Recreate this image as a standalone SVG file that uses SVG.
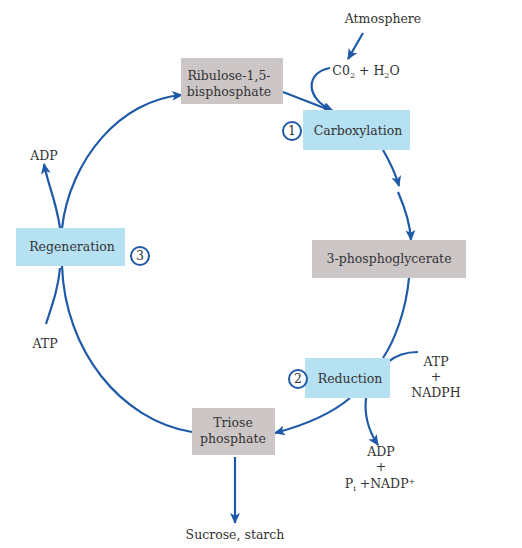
<svg xmlns="http://www.w3.org/2000/svg" width="522" height="548" viewBox="0 0 522 548">
<defs>
<marker id="ah" viewBox="0 0 10 10" refX="9" refY="5" markerWidth="11" markerHeight="11" orient="auto" markerUnits="userSpaceOnUse">
<path d="M0,0.5 L10,5 L0,9.5 L2.5,5 Z" fill="#1f5aa8"/>
</marker>
<style>
.t{font-family:"DejaVu Serif","Liberation Serif",serif;font-size:12.5px;fill:#333;text-anchor:middle}
.gray{fill:#cdc6c6}
.blue{fill:#b5e1f3}
.c{fill:none;stroke:#1f5aa8;stroke-width:2.2}
.num{fill:#fff;stroke:#1f5aa8;stroke-width:2}
</style>
</defs>
<rect width="522" height="548" fill="#fff"/>
<g id="connectors">
<path class="c" d="M62,228 C70,160 120,100 182,95" marker-end="url(#ah)"/>
<path class="c" d="M192,432 C120,420 65,350 62,266"/>
<path class="c" d="M60,228 C56,200 48,185 44,164" marker-end="url(#ah)"/>
<path class="c" d="M46,324 C52,305 58,290 60,268"/>
<path class="c" d="M383,150 C390,162 395,172 399,186" marker-end="url(#ah)"/>
<path class="c" d="M398,192 C405,208 410,222 411,240" marker-end="url(#ah)"/>
<path class="c" d="M409,278 C406,310 395,340 383,358"/>
<path class="c" d="M418,352 C405,352 395,356 388,362"/>
<path class="c" d="M366,398 C364,415 368,430 378,445" marker-end="url(#ah)"/>
<path class="c" d="M350,398 C330,415 305,425 275,433" marker-end="url(#ah)"/>
<path class="c" d="M235,457 L235,523" marker-end="url(#ah)"/>
<path class="c" d="M363,33 L348,59" marker-end="url(#ah)"/>
<path class="c" d="M330,68 C306,72 304,98 333,111" marker-end="url(#ah)"/>
<path class="c" d="M283,92 L332,111" marker-end="url(#ah)"/>
</g>
<g id="ribulose">
<rect class="gray" x="181" y="58" width="102" height="46"/>
<text class="t" x="229" y="80">Ribulose-1,5-</text>
<text class="t" x="229" y="96">bisphosphate</text>
</g>
<g id="carboxylation">
<rect class="blue" x="303" y="110" width="107" height="40"/>
<text class="t" x="358" y="135">Carboxylation</text>
<circle class="num" cx="292" cy="131" r="9"/>
<text class="t" x="292" y="135">1</text>
</g>
<g id="pga">
<rect class="gray" x="312" y="240" width="154" height="38"/>
<text class="t" x="389" y="263">3-phosphoglycerate</text>
</g>
<g id="reduction">
<rect class="blue" x="305" y="358" width="85" height="40"/>
<text class="t" x="350" y="383">Reduction</text>
<circle class="num" cx="298" cy="379" r="9"/>
<text class="t" x="298" y="383">2</text>
</g>
<g id="triose">
<rect class="gray" x="192" y="408" width="83" height="47"/>
<text class="t" x="233" y="427">Triose</text>
<text class="t" x="233" y="443">phosphate</text>
</g>
<g id="regeneration">
<rect class="blue" x="16" y="228" width="109" height="38"/>
<text class="t" x="72" y="251">Regeneration</text>
<circle class="num" cx="140" cy="256" r="9"/>
<text class="t" x="140" y="260">3</text>
</g>
<g id="labels">
<text class="t" x="383" y="23">Atmosphere</text>
<text class="t" x="366" y="75">C0<tspan font-size="8" dy="3">2</tspan><tspan dy="-3"> + H</tspan><tspan font-size="8" dy="3">2</tspan><tspan dy="-3">O</tspan></text>
<text class="t" x="44" y="160">ADP</text>
<text class="t" x="45" y="348">ATP</text>
<text class="t" x="436" y="366">ATP</text>
<text class="t" x="436" y="381">+</text>
<text class="t" x="436" y="397">NADPH</text>
<text class="t" x="381" y="456">ADP</text>
<text class="t" x="381" y="471">+</text>
<text class="t" x="380" y="488">P<tspan font-size="8" dy="3">i</tspan><tspan dy="-3"> +NADP</tspan><tspan font-size="8" dy="-4">+</tspan></text>
<text class="t" x="235" y="539">Sucrose, starch</text>
</g>
</svg>
